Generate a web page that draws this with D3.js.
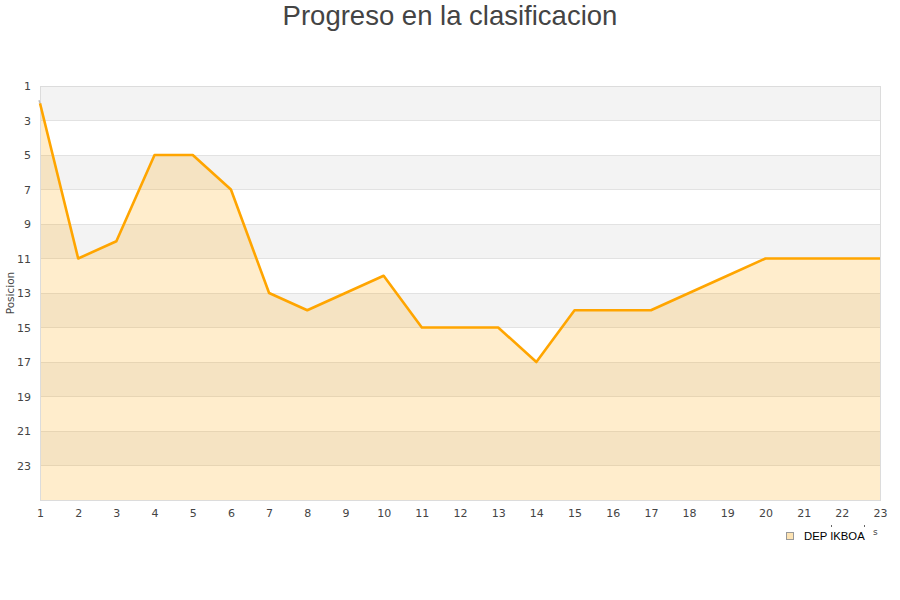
<!DOCTYPE html>
<html>
<head>
<meta charset="utf-8">
<script src="https://cdn.jsdelivr.net/npm/d3@7"></script>
<style>
html,body{margin:0;padding:0;background:#fff;}
svg{display:block;}
</style>
</head>
<body>
<svg id="chart" width="900" height="600"></svg>
<script>
const jornadas = [1,2,3,4,5,6,7,8,9,10,11,12,13,14,15,16,17,18,19,20,21,22,23];
const posiciones = [2,11,10,5,5,7,13,14,13,12,15,15,15,17,14,14,14,13,12,11,11,11,11];
const yTicks = [1,3,5,7,9,11,13,15,17,19,21,23];
const bandStarts = [1,5,9,13,17,21];
const seriesName = "DEP IKBOA";
const titleText = "Progreso en la clasificacion";
const yTitle = "Posicion";

(function(){
const svg = d3.select("#chart");
const pL = 40, pR = 880, pT = 86, pB = 500;
const x = d3.scaleLinear().domain([1,23]).range([pL,pR]);
const y = d3.scaleLinear().domain([1,25]).range([pT,pB]);
const ry = v => Math.floor(y(v));

// bands
svg.append("g").selectAll("rect").data(bandStarts).join("rect")
  .attr("x", pL).attr("width", pR-pL)
  .attr("y", d => ry(d)).attr("height", d => ry(d+2)-ry(d))
  .attr("fill", "#f3f3f3");

// gridlines
svg.append("g").selectAll("line").data(yTicks.concat([25])).join("line")
  .attr("x1", pL).attr("x2", pR)
  .attr("y1", d => ry(d)+0.5).attr("y2", d => ry(d)+0.5)
  .attr("stroke", "#e2e2e2").attr("stroke-width", 1);

// area
const area = d3.area().x((d,i)=>x(jornadas[i])).y0(pB).y1(d=>y(d));
svg.append("path").datum(posiciones).attr("d", area)
  .attr("fill", "orange").attr("fill-opacity", 0.2);

// frame
svg.append("rect").attr("x", pL+0.5).attr("y", pT+0.5)
  .attr("width", pR-pL).attr("height", pB-pT)
  .attr("fill","none").attr("stroke","#dcdcdc");

// line
const line = d3.line().x((d,i)=>x(jornadas[i])).y(d=>y(d));
svg.append("path").datum(posiciones).attr("d", line)
  .attr("fill","none").attr("stroke","orange").attr("stroke-width",2.6)
  .attr("stroke-linejoin","round");

// small gray start mark
svg.append("line").attr("x1", x(1)-1).attr("y1", y(posiciones[0])-3)
  .attr("x2", x(1)).attr("y2", y(posiciones[0])).attr("stroke","#bbb").attr("stroke-width",1.5);

// y axis labels
const yAxis = d3.axisLeft(y).tickValues(yTicks).tickSize(0).tickPadding(9);
const gy = svg.append("g").attr("transform",`translate(${pL},0)`).call(yAxis);
gy.select(".domain").remove();
gy.selectAll("text").attr("font-family","DejaVu Sans").attr("font-size",11).attr("fill","#444");

// x axis labels
const xAxis = d3.axisBottom(x).tickValues(jornadas).tickFormat(d3.format("d")).tickSize(0).tickPadding(9);
const gx = svg.append("g").attr("transform",`translate(0,${pB})`).call(xAxis);
gx.select(".domain").remove();
gx.selectAll("text").attr("font-family","DejaVu Sans").attr("font-size",11).attr("fill","#444");

// titles
svg.append("text").attr("x",450).attr("y",25).attr("text-anchor","middle")
  .attr("font-family","Liberation Sans, Arial").attr("font-size",27.5).attr("fill","#444")
  .text(titleText);
svg.append("text").attr("transform","translate(14,293) rotate(-90)").attr("text-anchor","middle")
  .attr("font-family","DejaVu Sans").attr("font-size",10.5).attr("fill","#444").text(yTitle);

// legend
const lg = svg.append("g");
lg.append("rect").attr("x",786.5).attr("y",532.5).attr("width",7).attr("height",7)
  .attr("fill","#fde3b3").attr("stroke","#999");
lg.append("text").attr("x",804).attr("y",540).attr("font-family","Liberation Sans, Arial")
  .attr("font-size",11.3).attr("fill","#000").text(seriesName);
lg.append("rect").attr("x",831).attr("y",525).attr("width",1).attr("height",2).attr("fill","#666");
lg.append("rect").attr("x",864).attr("y",525).attr("width",1).attr("height",2).attr("fill","#666");
lg.append("text").attr("x",873).attr("y",535).attr("font-family","DejaVu Sans")
  .attr("font-size",9).attr("fill","#444").text("s");
})();
</script>
</body>
</html>
